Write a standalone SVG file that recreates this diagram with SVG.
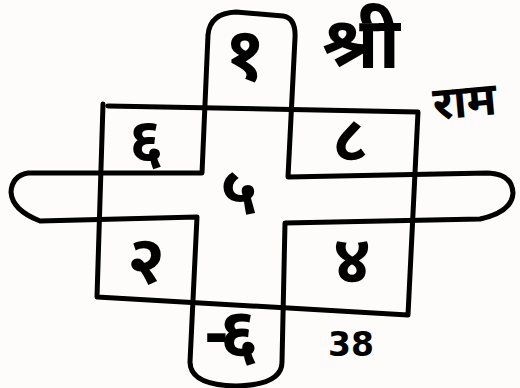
<svg xmlns="http://www.w3.org/2000/svg" width="520" height="388" viewBox="0 0 520 388">
<style>
.ln{fill:none;stroke:#000;stroke-width:5;stroke-linejoin:round;stroke-linecap:round}
.t{font-family:'Noto Sans Devanagari','Lohit Devanagari','Noto Sans',sans-serif;font-weight:bold;fill:#000;text-anchor:middle;dominant-baseline:central}
.n{font-family:'DejaVu Sans',sans-serif;font-weight:bold;fill:#000;text-anchor:middle;dominant-baseline:central}
</style>
<rect width="520" height="388" fill="#fdfcfa"/>
<g id="connectors">
<path id="square" class="ln" d="M103,104 L97,297 L408,315 L418,112 L108,106"/>
<path id="cross" class="ln" d="M288,177 L295,38 Q296,18 283,16 L236,12 Q210,13 208,35 L202,173 L28,173 Q12,176 11,192 Q12,210 40,221 L197,217 L190,362 Q190,385 236,386 Q282,385 282,362 L285,223 L480,219 Q512,212 513,193 Q512,174 488,173 Z"/>
</g>
<g id="n-top"><text class="t" x="245" y="61" font-size="74">१</text></g>
<g id="n-tl"><text class="t" x="146" y="147" font-size="62">६</text></g>
<g id="n-tr"><text class="t" x="350" y="145" font-size="64">८</text></g>
<g id="n-c"><text class="t" x="239" y="198" font-size="66">५</text></g>
<g id="n-bl"><text class="t" x="146" y="266" font-size="68">२</text></g>
<g id="n-br"><text class="t" x="352" y="266" font-size="68">४</text></g>
<g id="n-b"><text class="t" x="226" y="341" font-size="70" letter-spacing="-10">-६</text></g>
<g id="shri"><text class="t" x="361" y="50" font-size="72">श्री</text></g>
<g id="ram"><text class="t" x="465" y="106" font-size="46" transform="rotate(-5 465 106)">राम</text></g>
<g id="num"><text class="n" x="351" y="344" font-size="33">38</text></g>
</svg>
